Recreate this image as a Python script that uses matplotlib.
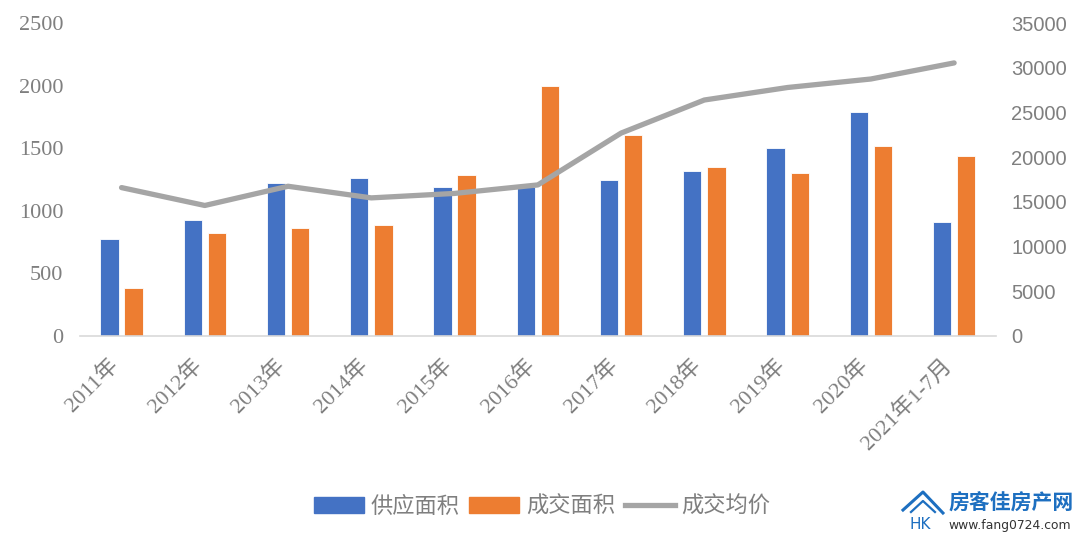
import numpy as np
import matplotlib.pyplot as plt
import matplotlib.transforms as mtransforms
from matplotlib.lines import Line2D

plt.rcParams['font.family'] = ['Liberation Serif', 'Noto Sans CJK SC', 'DejaVu Sans']

# 数据
years = ['2011年', '2012年', '2013年', '2014年', '2015年', '2016年',
         '2017年', '2018年', '2019年', '2020年', '2021年1-7月']
supply = [775, 925, 1225, 1262, 1192, 1190, 1250, 1315, 1500, 1790, 908]
deal = [380, 820, 865, 885, 1285, 2000, 1610, 1348, 1300, 1515, 1442]
price = [16600, 14600, 16750, 15450, 15950, 16900, 22700, 26400, 27800, 28750, 30550]

blue = '#4472C4'
orange = '#ED7D31'
grey = '#A5A5A5'
txt = '#7F7F7F'

fig = plt.figure(figsize=(10.8, 5.38), dpi=100)
ax = fig.add_axes([0.074, 0.3755, 0.848, 0.5815])
ax2 = ax.twinx()

x = np.arange(len(years))
w = 0.22
ax.bar(x - 0.145, supply, w, color=blue, edgecolor='white', linewidth=0.6, label='供应面积')
ax.bar(x + 0.145, deal, w, color=orange, edgecolor='white', linewidth=0.6, label='成交面积')
ax2.plot(x, price, color=grey, lw=3.8, solid_capstyle='round', label='成交均价')

ax.set_xlim(-0.5, len(years) - 0.5)
ax.set_ylim(0, 2500)
ax2.set_ylim(0, 35000)
ax.set_yticks(range(0, 2501, 500))
ax2.set_yticks(range(0, 35001, 5000))

for a in (ax, ax2):
    for s in a.spines.values():
        s.set_visible(False)
    a.tick_params(length=0, labelcolor=txt)
ax.spines['bottom'].set_visible(True)
ax.spines['bottom'].set_color('#D9D9D9')
ax.spines['bottom'].set_linewidth(1.2)
ax.tick_params(axis='y', pad=12, labelsize=16)
ax2.tick_params(axis='y', pad=11, labelsize=14.5)
for lbl in ax2.get_yticklabels():
    lbl.set_family(['Liberation Sans'])

ax.set_xticks(x)
ax.set_xticklabels(years, rotation=45, ha='right', va='center', rotation_mode='anchor')
ax.tick_params(axis='x', pad=19, labelsize=16)
offset = mtransforms.ScaledTranslation(-6 / 100, 0, fig.dpi_scale_trans)
for lbl in ax.get_xticklabels():
    lbl.set_transform(lbl.get_transform() + offset)

handles = [plt.Rectangle((0, 0), 1, 1, color=blue),
           plt.Rectangle((0, 0), 1, 1, color=orange),
           Line2D([0], [0], color=grey, lw=3.8)]
fig.legend(handles, ['供应面积', '成交面积', '成交均价'], loc='center',
           bbox_to_anchor=(0.502, 0.059), ncol=3, frameon=False,
           prop={'family': ['Noto Sans CJK SC'], 'size': 16}, labelcolor=txt,
           handlelength=2.25, handleheight=0.75, handletextpad=0.3, columnspacing=0.45)

# 水印 logo
logo_blue = '#1D6FC0'
fig.text(0.8778, 0.065, '房客佳房产网', color=logo_blue, fontsize=15, fontweight='bold',
         family=['Noto Sans CJK SC'], ha='left', va='center')
fig.text(0.8778, 0.024, 'www.fang0724.com', color='#333333', fontsize=8.9,
         family=['DejaVu Sans'], ha='left', va='center')
fig.add_artist(Line2D([0.8361, 0.8546, 0.8731], [0.052, 0.0855, 0.0465], color=logo_blue,
                      lw=2.2, transform=fig.transFigure))
fig.add_artist(Line2D([0.8435, 0.8546, 0.8657], [0.0483, 0.0688, 0.0483], color=logo_blue,
                      lw=1.6, transform=fig.transFigure))
fig.text(0.8519, 0.026, 'HK', color=logo_blue, fontsize=11, family=['DejaVu Sans'],
         ha='center', va='center')

fig.savefig('out.png', dpi=100, facecolor='white')
